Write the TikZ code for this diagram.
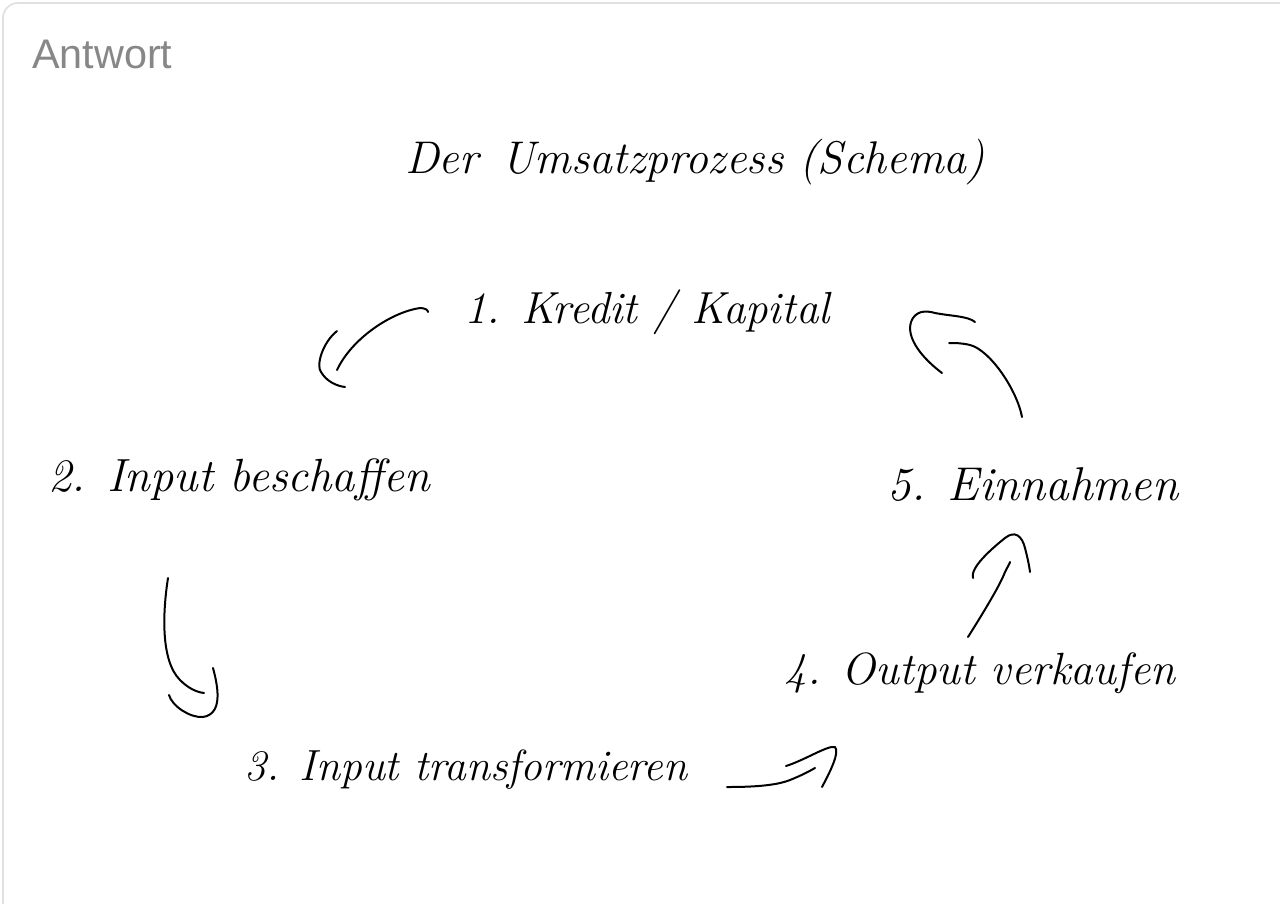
\documentclass[tikz,border=0pt]{standalone}
\usepackage{fontspec}
\setmainfont{Latin Modern Roman}
\newfontfamily\uifont{Liberation Sans}
\begin{document}
\begin{tikzpicture}[x=0.75pt,y=-0.75pt,
  hand/.style={line width=1.5pt, line cap=round, line join=round, black},
  hw/.style={anchor=center, inner sep=0pt, font=\fontsize{30}{34}\selectfont\itshape},
  ui/.style={anchor=base west, inner sep=0pt, text=black!47, font=\uifont\fontsize{31}{36}\selectfont}]
\useasboundingbox (0,0) rectangle (1280,903);
\fill[white] (0,0) rectangle (1280,903);
\begin{scope}
\clip (0,0) rectangle (1280,903);
\draw[black!12, line width=1.2pt] (3,960) -- (3,18) arc[start angle=180, end angle=270, radius=15] -- (1300,3);
\end{scope}

\node[ui] (antwort) at (32,68) {Antwort};

\node[hw] (title) at (695,162) {\resizebox{435pt}{!}{Der\enspace Umsatzprozess (Schema)}};
\node[hw] (n1) at (647,312) {\resizebox{274pt}{!}{1. Kredit / Kapital}};
\node[hw] (n2) at (239,480) {\resizebox{286pt}{!}{2. Input beschaffen}};
\node[hw] (n5) at (1033,485) {\resizebox{218pt}{!}{5. Einnahmen}};
\node[hw] (n4) at (980,673) {\resizebox{293pt}{!}{4. Output verkaufen}};
\node[hw] (n3) at (466,770) {\resizebox{332pt}{!}{3. Input transformieren}};

% arrow 2 <- 1 (top left)
\coordinate (a1s) at (337,370);
\coordinate (a1e) at (428,312);
\draw[hand] (a1s) .. controls (352,338) and (392,312) .. (420,308) .. controls (425,308) and (428,310) .. (a1e);
\draw[hand] (337,331) .. controls (322,343) and (316,366) .. (321,372) .. controls (327,382) and (337,386) .. (345,387);

% arrow 5 -> 1 (top right)
\coordinate (a5s) at (1022,417);
\coordinate (a5e) at (949,343);
\draw[hand] (a5s) .. controls (1017,390) and (990,350) .. (970,345) .. controls (962,343) and (955,343) .. (a5e);
\draw[hand] (942,373) .. controls (922,358) and (906,338) .. (911,322) .. controls (915,311) and (925,310) .. (935,313) .. controls (950,316) and (968,316) .. (975,322);

% arrow 2 -> 3 (left)
\coordinate (a2s) at (168,578);
\coordinate (a2e) at (204,693);
\draw[hand] (a2s) .. controls (163,610) and (160,660) .. (180,680) .. controls (188,688) and (196,692) .. (a2e);
\draw[hand] (169,695) .. controls (172,706) and (190,718) .. (203,717) .. controls (222,714) and (219,690) .. (213,668);

% arrow 3 -> 4 (bottom)
\coordinate (a3s) at (727,787);
\coordinate (a3e) at (815,768);
\draw[hand] (a3s) .. controls (750,787) and (775,786) .. (790,780) .. controls (800,776) and (808,772) .. (a3e);
\draw[hand] (786,766) .. controls (805,760) and (828,745) .. (835,747) .. controls (840,752) and (830,772) .. (822,787);

% arrow 4 -> 5 (right)
\coordinate (a4s) at (968,637);
\coordinate (a4e) at (1010,562);
\draw[hand] (a4s) .. controls (985,610) and (1000,585) .. (1005,572) .. controls (1008,566) and (1010,563) .. (a4e);
\draw[hand] (973,578) .. controls (970,568) and (990,550) .. (1005,538) .. controls (1015,530) and (1022,536) .. (1025,548) .. controls (1027,556) and (1029,564) .. (1030,572);
\end{tikzpicture}
\end{document}
